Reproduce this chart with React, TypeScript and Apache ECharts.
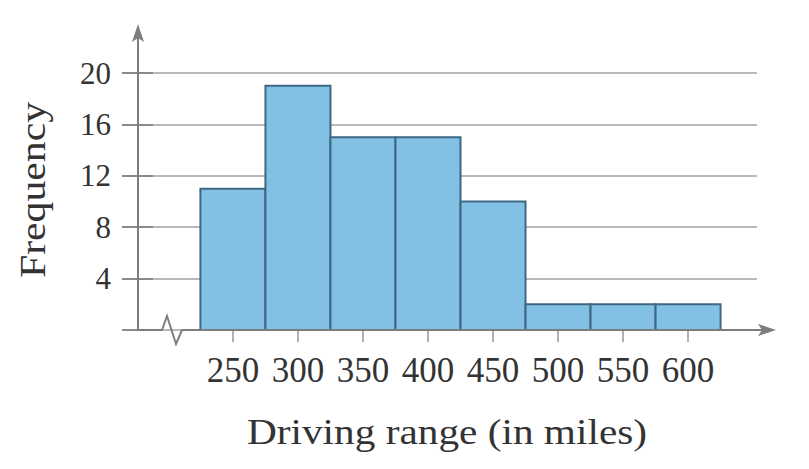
import React, { useEffect, useRef } from "react";
import * as echarts from "echarts";

const BIN_CENTERS = [250, 300, 350, 400, 450, 500, 550, 600];
const FREQUENCIES = [11, 19, 15, 15, 10, 2, 2, 2];
const BIN_WIDTH = 50;
const X_TITLE = "Driving range (in miles)";
const Y_TITLE = "Frequency";

const FONT = "'Liberation Serif', 'DejaVu Serif', serif";

export default function App() {
  const ref = useRef<HTMLDivElement>(null);
  useEffect(() => {
    if (!ref.current) return;
    const chart = echarts.init(ref.current, null, { renderer: "svg" });
    const data = BIN_CENTERS.map((c, i) => [c, FREQUENCIES[i]]);
    const axisColor = "#7d7d7d";
    chart.setOption({
      animation: false,
      backgroundColor: "#ffffff",
      grid: { left: 138, right: 52, top: 73, bottom: 139, outerBoundsMode: "none" },
      xAxis: {
        type: "value",
        min: 177,
        max: 653,
        axisLine: { show: false },
        splitLine: { show: false },
        axisTick: {
          show: true,
          customValues: BIN_CENTERS,
          length: 12,
          lineStyle: { color: "#b0b0b0", width: 2 },
        },
        axisLabel: {
          customValues: BIN_CENTERS,
          margin: 23,
          fontFamily: FONT,
          fontSize: 35,
          color: "#333333",
        },
      },
      yAxis: [
        {
          type: "value",
          min: 0,
          max: 20,
          interval: 4,
          axisLine: { show: false },
          axisTick: {
            show: true,
            length: 16,
            lineStyle: { color: "#8a8a8a", width: 2 },
          },
          axisLabel: {
            formatter: (v: number) => (v === 0 ? "" : String(v)),
            margin: 27,
            padding: [10, 0, 0, 0],
            fontFamily: FONT,
            fontSize: 31,
            color: "#333333",
          },
          splitLine: { show: true, lineStyle: { color: "#b8b8b8", width: 2 } },
        },
        {
          type: "value",
          min: 0,
          max: 20,
          interval: 4,
          position: "left",
          axisLine: { show: false },
          axisTick: {
            show: true,
            inside: true,
            length: 15,
            lineStyle: { color: "#8a8a8a", width: 2 },
          },
          axisLabel: { show: false },
          splitLine: { show: false },
        },
      ],
      series: [
        {
          type: "custom",
          xAxisIndex: 0,
          yAxisIndex: 0,
          data,
          z: 5,
          renderItem: (params: any, api: any) => {
            const x = api.value(0);
            const y = api.value(1);
            const p0 = api.coord([x - BIN_WIDTH / 2, y]);
            const p1 = api.coord([x + BIN_WIDTH / 2, 0]);
            return {
              type: "rect",
              shape: { x: p0[0], y: p0[1], width: p1[0] - p0[0], height: p1[1] - p0[1] },
              style: { fill: "#82c1e4", stroke: "#3d6883", lineWidth: 2 },
            };
          },
        },
      ],
      graphic: [
        {
          type: "polyline",
          z: 10,
          shape: {
            points: [
              [138, 330],
              [162, 330],
              [167, 316],
              [176, 344],
              [182, 330],
              [768, 330],
            ],
          },
          style: { stroke: axisColor, lineWidth: 2, fill: "none" },
        },
        {
          type: "polygon",
          z: 10,
          shape: { points: [[776, 330], [758, 324], [762, 330], [758, 336]] },
          style: { fill: axisColor },
        },
        {
          type: "line",
          z: 10,
          shape: { x1: 138, y1: 331, x2: 138, y2: 32 },
          style: { stroke: axisColor, lineWidth: 2 },
        },
        {
          type: "polygon",
          z: 10,
          shape: { points: [[138, 24], [132, 42], [138, 38], [144, 42]] },
          style: { fill: axisColor },
        },
        {
          type: "text",
          x: 447,
          y: 432,
          scaleX: 1.18,
          style: {
            text: X_TITLE,
            font: `35px ${FONT}`,
            fill: "#333333",
            align: "center",
            verticalAlign: "middle",
          },
        },
        {
          type: "text",
          x: 33,
          y: 190,
          rotation: Math.PI / 2,
          scaleX: 1.16,
          style: {
            text: Y_TITLE,
            font: `36px ${FONT}`,
            fill: "#333333",
            align: "center",
            verticalAlign: "middle",
          },
        },
      ],
    });
    return () => chart.dispose();
  }, []);
  return (
    <div
      ref={ref}
      style={{ position: "fixed", left: 0, top: 0, width: 809, height: 469 }}
    />
  );
}
